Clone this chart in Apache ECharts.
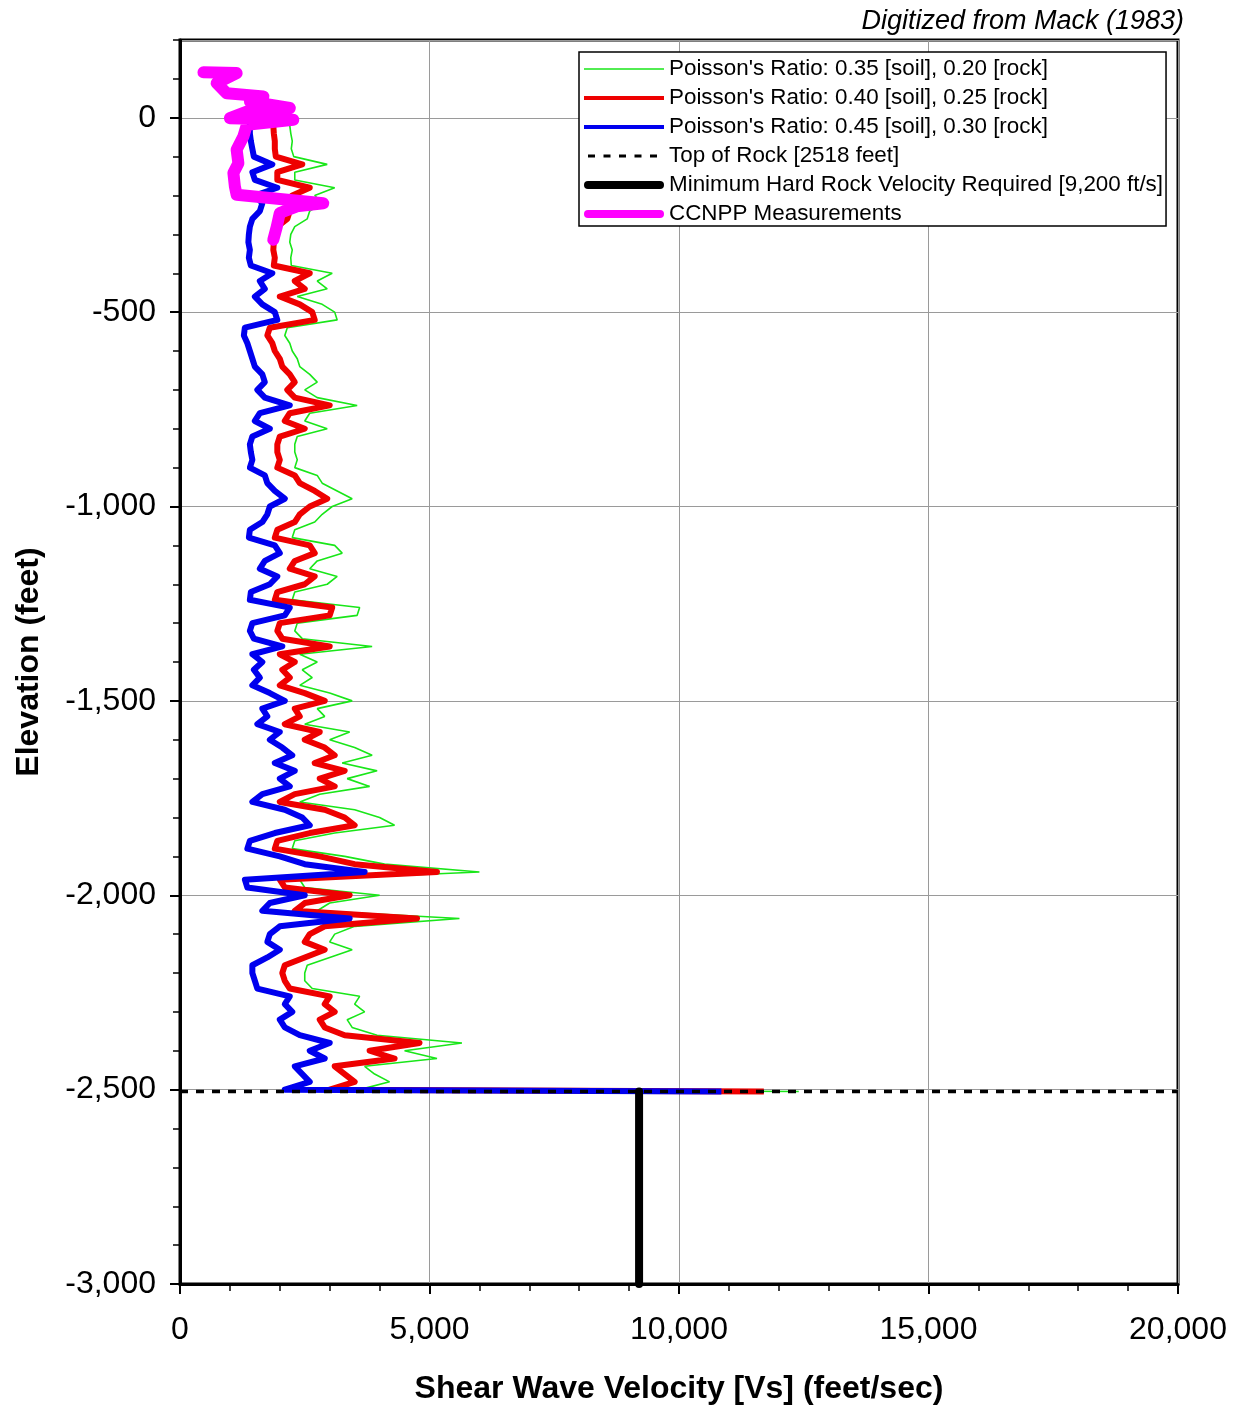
<!DOCTYPE html>
<html><head><meta charset="utf-8">
<script src="https://cdn.jsdelivr.net/npm/echarts@6/dist/echarts.min.js"></script>
<style>html,body{margin:0;padding:0;background:#fff}#c{width:1241px;height:1410px}</style>
</head><body><div id="c"></div>
<script>
// Sample elevations (feet); last entry is the top of rock
const elevationFt = [
  0,-20,-40,-60,-80,-100,-120,-140,-160,-180,
  -200,-220,-240,-260,-280,-300,-320,-340,-360,-380,
  -400,-420,-440,-460,-480,-500,-520,-540,-560,-580,
  -600,-620,-640,-660,-680,-700,-720,-740,-760,-780,
  -800,-820,-840,-860,-880,-900,-920,-940,-960,-980,
  -1000,-1020,-1040,-1060,-1080,-1100,-1120,-1140,-1160,-1180,
  -1200,-1220,-1240,-1260,-1280,-1300,-1320,-1340,-1360,-1380,
  -1400,-1420,-1440,-1460,-1480,-1500,-1520,-1540,-1560,-1580,
  -1600,-1620,-1640,-1660,-1680,-1700,-1720,-1740,-1760,-1780,
  -1800,-1820,-1840,-1860,-1880,-1900,-1920,-1940,-1960,-1980,
  -2000,-2020,-2040,-2060,-2080,-2100,-2120,-2140,-2160,-2180,
  -2200,-2220,-2240,-2260,-2280,-2300,-2320,-2340,-2360,-2380,
  -2400,-2420,-2440,-2460,-2480,
  -2500,-2505
];
// Poisson's ratio 0.35 soil / 0.20 rock (green)
const vsPr035 = [
  2200,2200,2220,2250,2230,2280,2950,2300,2300,3100,
  2700,2850,2600,2550,2300,2220,2200,2250,2220,2230,
  3050,2750,2950,2350,2850,3100,3150,2150,2100,2200,
  2250,2350,2400,2600,2750,2500,2750,3550,2600,2500,
  2950,2350,2300,2300,2350,2300,2750,2850,3150,3450,
  3050,2850,2700,2300,2250,3100,3250,2750,2600,3150,
  2950,2300,2250,3600,3550,2350,2300,2450,3850,2400,
  2750,2450,2650,2400,3000,3450,2750,2900,2500,3400,
  3000,3500,3850,3250,3950,3350,3800,2800,2400,3500,
  4000,4300,3100,2300,2250,3300,4100,6000,2400,2500,
  4000,3000,2750,5600,3500,3100,3000,3450,3000,2550,
  2500,2500,2650,3600,3500,3700,3350,3450,3950,5650,
  4500,5150,3700,3900,4200,
  3600,12400
];
// Poisson's ratio 0.40 soil / 0.25 rock (red)
const vsPr040 = [
  1870,1870,1880,1900,1900,1920,2450,1950,1950,2600,
  2250,2350,2200,2150,1950,1900,1880,1870,1900,1880,
  2600,2300,2500,2000,2400,2650,2700,1800,1750,1850,
  1900,2000,2050,2200,2300,2150,2300,3000,2200,2100,
  2500,2000,1950,1950,2000,1950,2300,2400,2700,2950,
  2600,2400,2300,1950,1900,2600,2700,2300,2200,2700,
  2500,1950,1900,3050,3000,2000,1950,2050,3000,2000,
  2300,2050,2200,2000,2500,2900,2300,2400,2100,2800,
  2500,2900,3100,2700,3300,2800,3100,2300,2000,2900,
  3300,3500,2600,1950,1900,2800,3500,5150,2000,2100,
  3400,2500,2300,4750,2900,2600,2500,2900,2500,2100,
  2050,2100,2200,3000,2900,3100,2800,2900,3300,4800,
  3800,4300,3100,3300,3500,
  3000,11700
];
// Poisson's ratio 0.45 soil / 0.30 rock (blue)
const vsPr045 = [
  1400,1400,1400,1420,1450,1480,1850,1450,1500,1950,
  1500,1650,1600,1450,1400,1380,1370,1400,1380,1420,
  1850,1600,1700,1500,1650,1900,1950,1300,1280,1350,
  1400,1450,1500,1650,1700,1550,1700,2200,1600,1500,
  1800,1450,1400,1420,1450,1400,1700,1750,1900,2100,
  1800,1750,1650,1400,1380,1900,2000,1700,1600,1950,
  1800,1420,1400,2200,2100,1450,1400,1480,2050,1450,
  1650,1480,1600,1450,1800,2100,1650,1750,1550,2000,
  1800,2050,2250,1900,2300,2000,2200,1650,1450,2100,
  2450,2600,1900,1400,1350,2000,2500,3700,1300,1350,
  2500,1800,1650,3400,2000,1800,1750,2000,1750,1450,
  1450,1500,1550,2200,2100,2250,2000,2100,2400,3000,
  2600,2900,2300,2450,2600,
  2100,10850
];
// CCNPP measurements
const ccnppVel  = [470,1135,735,935,1670,1400,2200,1340,1000,2270,1340,1270,1135,1170,1070,1100,1135,2870,2340,2000,1940,1870];
const ccnppElev = [117,115,89,63,55,42,25,16,-1,-5,-18,-48,-82,-117,-142,-177,-198,-220,-228,-245,-280,-314];
// Top of rock line and minimum hard rock velocity
const topOfRockVel = [0, 20000];
const topOfRockElev = [-2505, -2505];
const minRockVel = [9200, 9200];
const minRockElev = [-2505, -3000];
// Axis ticks
const xTicks = {min: 0, max: 20000, interval: 5000};
const yTicks = {min: -3000, max: 200, interval: 500, minor: 100};

const seriesNames = [
  "Poisson's Ratio: 0.35 [soil], 0.20 [rock]",
  "Poisson's Ratio: 0.40 [soil], 0.25 [rock]",
  "Poisson's Ratio: 0.45 [soil], 0.30 [rock]",
  "Top of Rock [2518 feet]",
  "Minimum Hard Rock Velocity Required [9,200 ft/s]",
  "CCNPP Measurements"
];

const pairs = (xs, ys) => xs.map((v, i) => [v, ys[i]]);
const FONT = '"Liberation Sans", Arial, Helvetica, sans-serif';
const fmt = v => Number(v).toLocaleString('en-US');

const chart = echarts.init(document.getElementById('c'));
const base = {type: 'line', symbol: 'none', showSymbol: false, silent: true, animation: false, xAxisIndex: 0, yAxisIndex: 0};

function bar(h) { // centered horizontal bar icon in an 80x14 box
  const y = (14 - h) / 2;
  return 'path://M0,0M80,14M0,' + y + 'h80v' + h + 'h-80z';
}
function roundBar(h) {
  const r = h / 2, y = (14 - h) / 2;
  return 'path://M0,0M80,14M' + r + ',' + y + 'h' + (80 - h) + 'a' + r + ',' + r + ' 0 0 1 0,' + h + 'h-' + (80 - h) + 'a' + r + ',' + r + ' 0 0 1 0,-' + h + 'z';
}
let dashPath = 'path://M0,0M80,14';
for (let k = 0; k < 5; k++) dashPath += 'M' + (4 + k * 15.5) + ',5.5h7v3h-7z';

chart.setOption({
  animation: false,
  backgroundColor: '#fff',
  title: {
    text: 'Digitized from Mack (1983)', right: 52, top: 3,
    textStyle: {fontFamily: FONT, fontStyle: 'italic', fontWeight: 'normal', fontSize: 27, color: '#000'}
  },
  legend: {
    orient: 'vertical', left: 579, top: 52,
    padding: [6, 3, 1, 5],
    backgroundColor: '#fff', borderColor: '#000', borderWidth: 1.5,
    itemWidth: 80, itemHeight: 14, itemGap: 7,
    textStyle: {fontFamily: FONT, fontSize: 22.4, color: '#000', lineHeight: 22},
    selectedMode: false,
    data: [
      {name: seriesNames[0], icon: bar(1.5)},
      {name: seriesNames[1], icon: bar(4)},
      {name: seriesNames[2], icon: bar(4)},
      {name: seriesNames[3], icon: dashPath},
      {name: seriesNames[4], icon: roundBar(8)},
      {name: seriesNames[5], icon: roundBar(8)}
    ]
  },
  grid: {left: 180, right: 63, top: 40, bottom: 121, show: true, borderColor: '#000', borderWidth: 3, backgroundColor: 'rgba(0,0,0,0)'},
  xAxis: {
    type: 'value', min: xTicks.min, max: xTicks.max, interval: xTicks.interval,
    name: 'Shear Wave Velocity [Vs] (feet/sec)', nameLocation: 'middle', nameGap: 89,
    nameTextStyle: {fontFamily: FONT, fontWeight: 'bold', fontSize: 32, color: '#000'},
    axisLine: {show: true, onZero: false, lineStyle: {color: '#000', width: 3}},
    axisTick: {show: true, inside: false, length: 10, lineStyle: {color: '#000', width: 2}},
    minorTick: {show: true, splitNumber: 5, length: 7, lineStyle: {color: '#000', width: 1.5}},
    splitLine: {show: true, lineStyle: {color: '#9a9a9a', width: 1}},
    axisLabel: {margin: 30, fontFamily: FONT, fontSize: 32, color: '#000', formatter: fmt}
  },
  yAxis: [{
    type: 'value', min: yTicks.min, max: yTicks.max, interval: yTicks.interval,
    name: 'Elevation (feet)', nameLocation: 'middle', nameGap: 135, nameRotate: 90,
    nameTextStyle: {fontFamily: FONT, fontWeight: 'bold', fontSize: 32, color: '#000'},
    axisLine: {show: true, onZero: false, lineStyle: {color: '#000', width: 3}},
    axisTick: {show: true, inside: false, length: 10, lineStyle: {color: '#000', width: 2}},
    splitLine: {show: true, lineStyle: {color: '#9a9a9a', width: 1}},
    axisLabel: {margin: 24, fontFamily: FONT, fontSize: 32, color: '#000', formatter: fmt, showMaxLabel: false}
  }, {
    type: 'value', min: yTicks.min, max: yTicks.max, interval: yTicks.minor, position: 'left', offset: 0,
    axisLine: {show: false}, axisLabel: {show: false}, splitLine: {show: false},
    axisTick: {show: true, inside: false, length: 7, lineStyle: {color: '#000', width: 1.5}}
  }],
  series: [
    Object.assign({}, base, {name: seriesNames[0], data: pairs(vsPr035, elevationFt), lineStyle: {color: '#19e619', width: 1.6}, itemStyle: {color: '#19e619'}, z: 2}),
    Object.assign({}, base, {name: seriesNames[1], data: pairs(vsPr040, elevationFt), lineStyle: {color: '#ee0000', width: 6, join: 'round'}, itemStyle: {color: '#ee0000'}, z: 3}),
    Object.assign({}, base, {name: seriesNames[2], data: pairs(vsPr045, elevationFt), lineStyle: {color: '#0000ee', width: 6, join: 'round'}, itemStyle: {color: '#0000ee'}, z: 4}),
    Object.assign({}, base, {name: seriesNames[3], data: pairs(topOfRockVel, topOfRockElev), lineStyle: {color: '#000', width: 3.5, type: [8, 8]}, itemStyle: {color: '#000'}, z: 5}),
    Object.assign({}, base, {name: seriesNames[4], data: pairs(minRockVel, minRockElev), lineStyle: {color: '#000', width: 8, cap: 'round'}, itemStyle: {color: '#000'}, z: 6}),
    Object.assign({}, base, {name: seriesNames[5], data: pairs(ccnppVel, ccnppElev), lineStyle: {color: '#ff00ff', width: 12, cap: 'round', join: 'round'}, itemStyle: {color: '#ff00ff'}, z: 7})
  ]
});
</script>
</body></html>
